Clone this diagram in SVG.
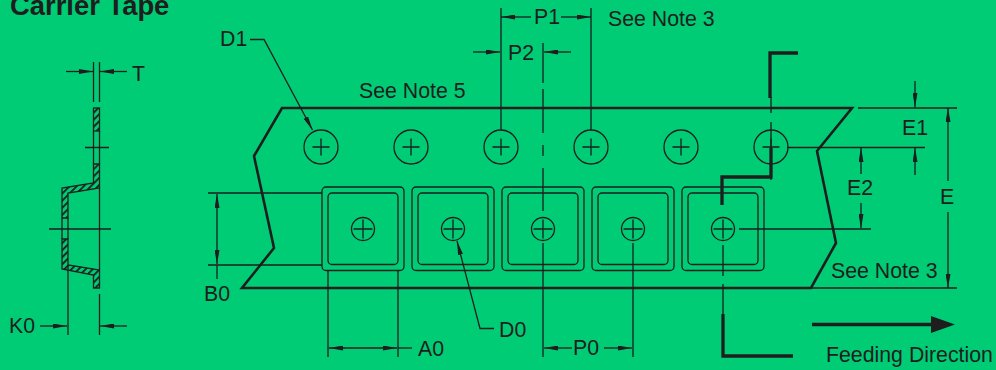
<svg xmlns="http://www.w3.org/2000/svg" width="996" height="370" viewBox="0 0 996 370">
<style>
text{font-family:"Liberation Sans",Arial,sans-serif;font-size:21.300px;fill:#1e1e1e}
.t{fill:none;stroke:#1e1e1e;stroke-width:1.300}
.k{fill:none;stroke:#1e1e1e;stroke-width:2.600}
.b{fill:none;stroke:#1e1e1e;stroke-width:3.300}
.h{fill:url(#hatch);stroke:#1e1e1e;stroke-width:1.300}
.a{fill:#1e1e1e}
</style>
<defs>
<pattern id="hatch" width="5" height="5" patternUnits="userSpaceOnUse" patternTransform="rotate(45)"><rect width="5" height="5" fill="#00cc75"/><rect width="1.800" height="5" fill="#1e1e1e"/></pattern>
<marker id="ar" viewBox="0 0 14 5" refX="14" refY="2.500" markerWidth="14" markerHeight="5" markerUnits="userSpaceOnUse" orient="auto-start-reverse"><path d="M0 0L14 2.500L0 5Z" fill="#1e1e1e"/></marker>
<g id="hole"><circle r="17" class="t"/><path d="M-8.500 0H8.500M0-8.500V8.500" class="t"/></g>
<g id="pocket"><rect x="-41" y="-42" width="82" height="83.500" rx="4" class="t"/><rect x="-35" y="-36" width="70" height="71.500" rx="4" class="t"/><circle r="11.500" class="t"/><path d="M-9.500 0H9.500M0-9.500V9.500" class="t"/></g>
</defs>
<rect width="996" height="370" fill="#00cc75"/>
<g id="title"><text x="10" y="14.500" style="font-size:27.400px;font-weight:bold">Carrier Tape</text></g>
<g id="tape"><path class="k" d="M282 108H852L817 151L836 243L811 288H242L274 248L254 156Z"/></g>
<g id="section">
<rect class="h" x="93.500" y="108" width="6" height="23"/>
<path class="h" d="M93.500 164H99.500V188L68 193V218H62V188L93.500 183Z"/>
<path class="h" d="M62 239H68V265L99.500 270V288H93.500V275L62 269Z"/>
<path class="t" d="M93.500 131V164M99.500 131V164M62 218V239M68 218V239M99.500 188V270"/>
</g>
<g id="holes">
<use href="#hole" x="321" y="147"/><use href="#hole" x="411" y="147"/><use href="#hole" x="501" y="147"/><use href="#hole" x="591" y="147"/><use href="#hole" x="681" y="147"/><use href="#hole" x="771" y="147"/>
</g>
<g id="pockets">
<use href="#pocket" x="363" y="229"/><use href="#pocket" x="453" y="229"/><use href="#pocket" x="543" y="229"/><use href="#pocket" x="633" y="229"/><use href="#pocket" x="723" y="229"/>
</g>
<g id="connectors">
<path class="t" d="M93.500 62V102M99.500 62V102M85 147.500H109M49 229H111M68 265V335M99.500 294V335"/>
<path class="t" marker-end="url(#ar)" d="M66 71.500H93"/><path class="t" marker-end="url(#ar)" d="M127 71.500H100"/>
<path class="t" marker-end="url(#ar)" d="M40 326H67"/><path class="t" marker-end="url(#ar)" d="M127 326H100"/>
<path class="t" d="M208 193H322M208 265H322M217 265V279"/>
<path class="t" marker-start="url(#ar)" marker-end="url(#ar)" d="M217 194V264"/>
<path class="t" marker-end="url(#ar)" d="M250 39.500H264L312.500 130"/>
<path class="t" d="M328 270V357M398 270V357"/>
<path class="t" marker-start="url(#ar)" marker-end="url(#ar)" d="M329 348H397"/><path class="t" d="M398 348H412"/>
<path class="t" marker-end="url(#ar)" d="M494 328.500H480L457 241"/>
<path class="t" d="M501 8V130M591 8V130"/>
<path class="t" marker-end="url(#ar)" d="M531 17H501"/><path class="t" marker-end="url(#ar)" d="M561 17H591"/>
<path class="t" marker-end="url(#ar)" d="M473 52H500"/><path class="t" marker-end="url(#ar)" d="M571 52H544"/>
<path class="t" d="M543 43V83M543 89V133M543 145V156M543 168V211M543 243V357M633 243V357M723 245V276M723 284V335"/>
<path class="t" marker-end="url(#ar)" d="M572 348H544"/><path class="t" marker-end="url(#ar)" d="M604 348H632"/>
<path class="t" d="M771 97V113M771 122V180M739 229H871M787 147.500H925M858 108H957M810 288H957"/>
<path class="t" marker-end="url(#ar)" d="M915 81V107"/><path class="t" marker-end="url(#ar)" d="M915 175V148"/>
<path class="t" marker-end="url(#ar)" d="M861 174V148"/><path class="t" marker-end="url(#ar)" d="M861 203V228"/>
<path class="t" marker-end="url(#ar)" d="M948 181V108"/><path class="t" marker-end="url(#ar)" d="M948 212V288"/>
<path class="b" d="M798 53H770V98"/>
<path class="b" d="M771 148V177H722V205"/>
<path class="b" d="M723 314V356H793"/>
<path class="b" d="M812 324.500H932"/><path class="a" d="M931 316L955 324.500L931 333Z"/>
</g>
<g id="labels">
<text x="132" y="81">T</text><text x="9" y="333">K0</text><text x="204" y="301">B0</text>
<text x="220" y="46">D1</text><text x="359" y="98">See Note 5</text><text x="508" y="60">P2</text><text x="534" y="24">P1</text>
<text x="608" y="26">See Note 3</text><text x="418" y="356">A0</text><text x="499" y="337">D0</text><text x="573" y="355">P0</text>
<text x="902" y="135">E1</text><text x="847" y="195">E2</text><text x="940" y="204">E</text>
<text x="831" y="278">See Note 3</text><text x="826" y="362">Feeding Direction</text>
</g>
</svg>
